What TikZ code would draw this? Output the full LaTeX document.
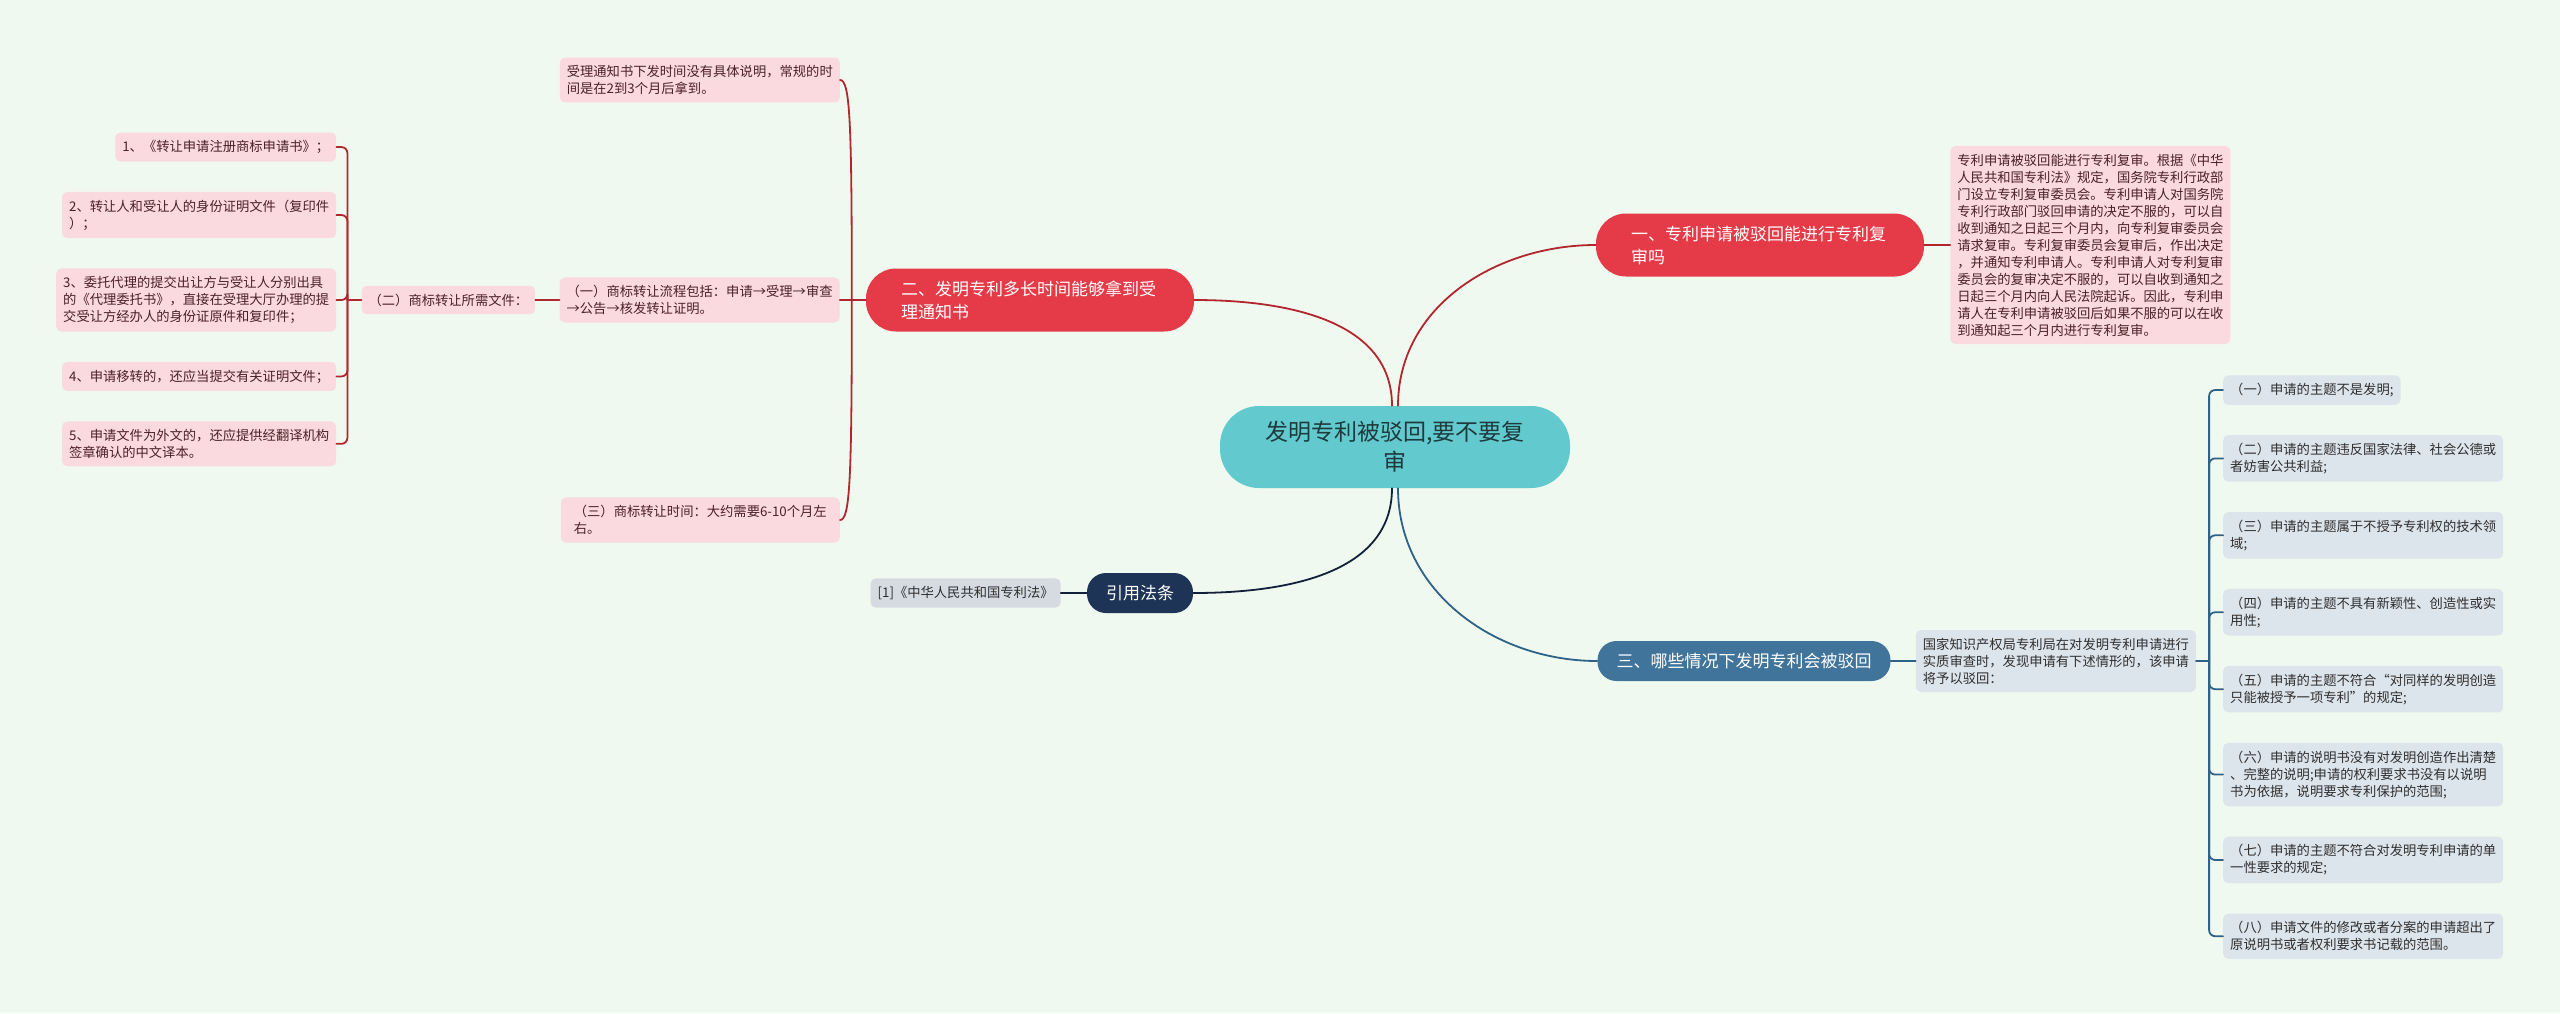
\documentclass[tikz,border=0pt]{standalone}
\usepackage{fontspec}
\usepackage{xcolor}
\usepackage{tikz}
\usetikzlibrary{positioning}
\newfontfamily\cjk{Noto Sans CJK SC}
\definecolor{MapBg}{HTML}{F0F9EF}
\definecolor{MapTeal}{HTML}{62CACE}
\definecolor{MapTealText}{HTML}{1E3A3C}
\definecolor{MapRed}{HTML}{E53A47}
\definecolor{MapRedLine}{HTML}{B1262F}
\definecolor{MapPink}{HTML}{FADADE}
\definecolor{MapPinkText}{HTML}{4A2126}
\definecolor{MapNavy}{HTML}{1E3456}
\definecolor{MapNavyLine}{HTML}{13203A}
\definecolor{MapGray}{HTML}{D6DBE2}
\definecolor{MapSteel}{HTML}{41749A}
\definecolor{MapSteelLine}{HTML}{2E6286}
\definecolor{MapBlueGray}{HTML}{DDE5EC}
\definecolor{MapText}{HTML}{2E2E2E}

\begin{document}
\begin{tikzpicture}[
  x=1pt, y=-1pt,
  node distance=30pt and 26pt,
  root/.style={fill=MapTeal, text=MapTealText, rounded corners=39pt, align=center, minimum width=350pt, minimum height=82pt, font=\cjk\fontsize{23}{30}\selectfont},
  redtopic/.style={fill=MapRed, text=white, rounded corners=30pt, align=left, text width=258pt, inner xsep=35pt, inner ysep=0pt, minimum height=63pt, font=\cjk\fontsize{17}{23}\selectfont},
  pilltopic/.style={fill=#1, text=white, rounded corners=19pt, inner xsep=19pt, inner ysep=0pt, minimum height=40pt, font=\cjk\fontsize{17}{22}\selectfont},
  leaf/.style={rounded corners=5pt, align=left, inner xsep=7pt, inner ysep=7.8pt, font=\cjk\fontsize{13.3}{17}\selectfont},
  pinkbox/.style={leaf, fill=MapPink, text=MapPinkText},
  graybox/.style={leaf, fill=MapGray, text=MapText},
  bluebox/.style={leaf, fill=MapBlueGray, text=MapText},
  redline/.style={draw=MapRedLine, line width=1.8pt, line cap=round},
  navyline/.style={draw=MapNavyLine, line width=1.8pt, line cap=round},
  blueline/.style={draw=MapSteelLine, line width=1.8pt, line cap=round}
]
  \fill[MapBg] (0,0) rectangle (2560,1013);
  \node[root] (root) at (1395,447) {发明专利被驳回,要不要复\\审};
  % branch one
  \node[redtopic] (t1) at (1760,245) {一、专利申请被驳回能进行专利复\\审吗};
  \node[pinkbox, right=26pt of t1] (d1) {专利申请被驳回能进行专利复审。根据《中华\\人民共和国专利法》规定，国务院专利行政部\\门设立专利复审委员会。专利申请人对国务院\\专利行政部门驳回申请的决定不服的，可以自\\收到通知之日起三个月内，向专利复审委员会\\请求复审。专利复审委员会复审后，作出决定\\，并通知专利申请人。专利申请人对专利复审\\委员会的复审决定不服的，可以自收到通知之\\日起三个月内向人民法院起诉。因此，专利申\\请人在专利申请被驳回后如果不服的可以在收\\到通知起三个月内进行专利复审。};
  % branch two
  \node[redtopic] (t2) at (1030,300) {二、发明专利多长时间能够拿到受\\理通知书};
  \node[pinkbox, left=26pt of t2] (b1) {（一）商标转让流程包括：申请→受理→审查\\→公告→核发转让证明。};
  \node[pinkbox, anchor=east] (na) at (840,80) {受理通知书下发时间没有具体说明，常规的时\\间是在2到3个月后拿到。};
  \node[pinkbox, anchor=east, minimum width=279pt] (b3) at (840,520) {（三）商标转让时间：大约需要6-10个月左\\右。};
  \node[pinkbox, left=24pt of b1] (b2) {（二）商标转让所需文件：};
  \node[pinkbox, left=25pt of b2] (it3) {3、委托代理的提交出让方与受让人分别出具\\的《代理委托书》，直接在受理大厅办理的提\\交受让方经办人的身份证原件和复印件；};
  \node[pinkbox, above left=30pt and 0pt of it3.north east] (it2) {2、转让人和受让人的身份证明文件（复印件\\）；};
  \node[pinkbox, above left=30pt and 0pt of it2.north east] (it1) {1、《转让申请注册商标申请书》；};
  \node[pinkbox, below left=30pt and 0pt of it3.south east] (it4) {4、申请移转的，还应当提交有关证明文件；};
  \node[pinkbox, below left=30pt and 0pt of it4.south east] (it5) {5、申请文件为外文的，还应提供经翻译机构\\签章确认的中文译本。};
  % cited law
  \node[pilltopic=MapNavy] (law) at (1140,593) {引用法条};
  \node[graybox, left=26pt of law] (lawbook) {[1]《中华人民共和国专利法》};
  % branch three
  \node[pilltopic=MapSteel] (t3) at (1744,661) {三、哪些情况下发明专利会被驳回};
  \node[bluebox, right=25pt of t3] (m3) {国家知识产权局专利局在对发明专利申请进行\\实质审查时，发现申请有下述情形的，该申请\\将予以驳回：};
  \node[bluebox, anchor=west] (c1) at (2223,390) {（一）申请的主题不是发明;};
  \node[bluebox, below right=30pt and 0pt of c1.south west] (c2) {（二）申请的主题违反国家法律、社会公德或\\者妨害公共利益;};
  \node[bluebox, below right=30pt and 0pt of c2.south west] (c3) {（三）申请的主题属于不授予专利权的技术领\\域;};
  \node[bluebox, below right=30pt and 0pt of c3.south west] (c4) {（四）申请的主题不具有新颖性、创造性或实\\用性;};
  \node[bluebox, below right=30pt and 0pt of c4.south west] (c5) {（五）申请的主题不符合“对同样的发明创造\\只能被授予一项专利”的规定;};
  \node[bluebox, below right=30pt and 0pt of c5.south west] (c6) {（六）申请的说明书没有对发明创造作出清楚\\、完整的说明;申请的权利要求书没有以说明\\书为依据，说明要求专利保护的范围;};
  \node[bluebox, below right=30pt and 0pt of c6.south west] (c7) {（七）申请的主题不符合对发明专利申请的单\\一性要求的规定;};
  \node[bluebox, below right=30pt and 0pt of c7.south west] (c8) {（八）申请文件的修改或者分案的申请超出了\\原说明书或者权利要求书记载的范围。};
  % connectors
  \draw[redline] ([xshift=3pt]root.north) to[out=90,in=180] (t1.west);
  \draw[redline] (t1) -- (d1);
  \draw[redline] ([xshift=-3pt]root.north) to[out=90,in=0] (t2.east);
  \draw[redline] (t2.west) -- ++(-14,0) coordinate (j2);
  \draw[redline] (j2) -- (b1.east);
  \draw[redline] (j2) .. controls +(0,-180) and +(10,0) .. (na.east);
  \draw[redline] (j2) .. controls +(0,180) and +(10,0) .. (b3.east);
  \draw[redline] (b1) -- (b2);
  \draw[redline] (b2.west) -- ++(-14,0) coordinate (j1);
  \draw[redline, rounded corners=6pt] (j1) |- (it1.east);
  \draw[redline, rounded corners=6pt] (j1) |- (it2.east);
  \draw[redline, rounded corners=6pt] (j1) |- (it3.east);
  \draw[redline, rounded corners=6pt] (j1) |- (it4.east);
  \draw[redline, rounded corners=6pt] (j1) |- (it5.east);
  \draw[navyline] ([xshift=-3pt]root.south) to[out=-90,in=0] (law.east);
  \draw[navyline] (law) -- (lawbook);
  \draw[blueline] ([xshift=3pt]root.south) to[out=-90,in=180] (t3.west);
  \draw[blueline] (t3) -- (m3);
  \draw[blueline] (m3.east) -- ++(13,0) coordinate (j3);
  \draw[blueline, rounded corners=6pt] (j3) |- (c1.west);
  \draw[blueline, rounded corners=6pt] (j3) |- (c2.west);
  \draw[blueline, rounded corners=6pt] (j3) |- (c3.west);
  \draw[blueline, rounded corners=6pt] (j3) |- (c4.west);
  \draw[blueline, rounded corners=6pt] (j3) |- (c5.west);
  \draw[blueline, rounded corners=6pt] (j3) |- (c6.west);
  \draw[blueline, rounded corners=6pt] (j3) |- (c7.west);
  \draw[blueline, rounded corners=6pt] (j3) |- (c8.west);
\end{tikzpicture}
\end{document}
